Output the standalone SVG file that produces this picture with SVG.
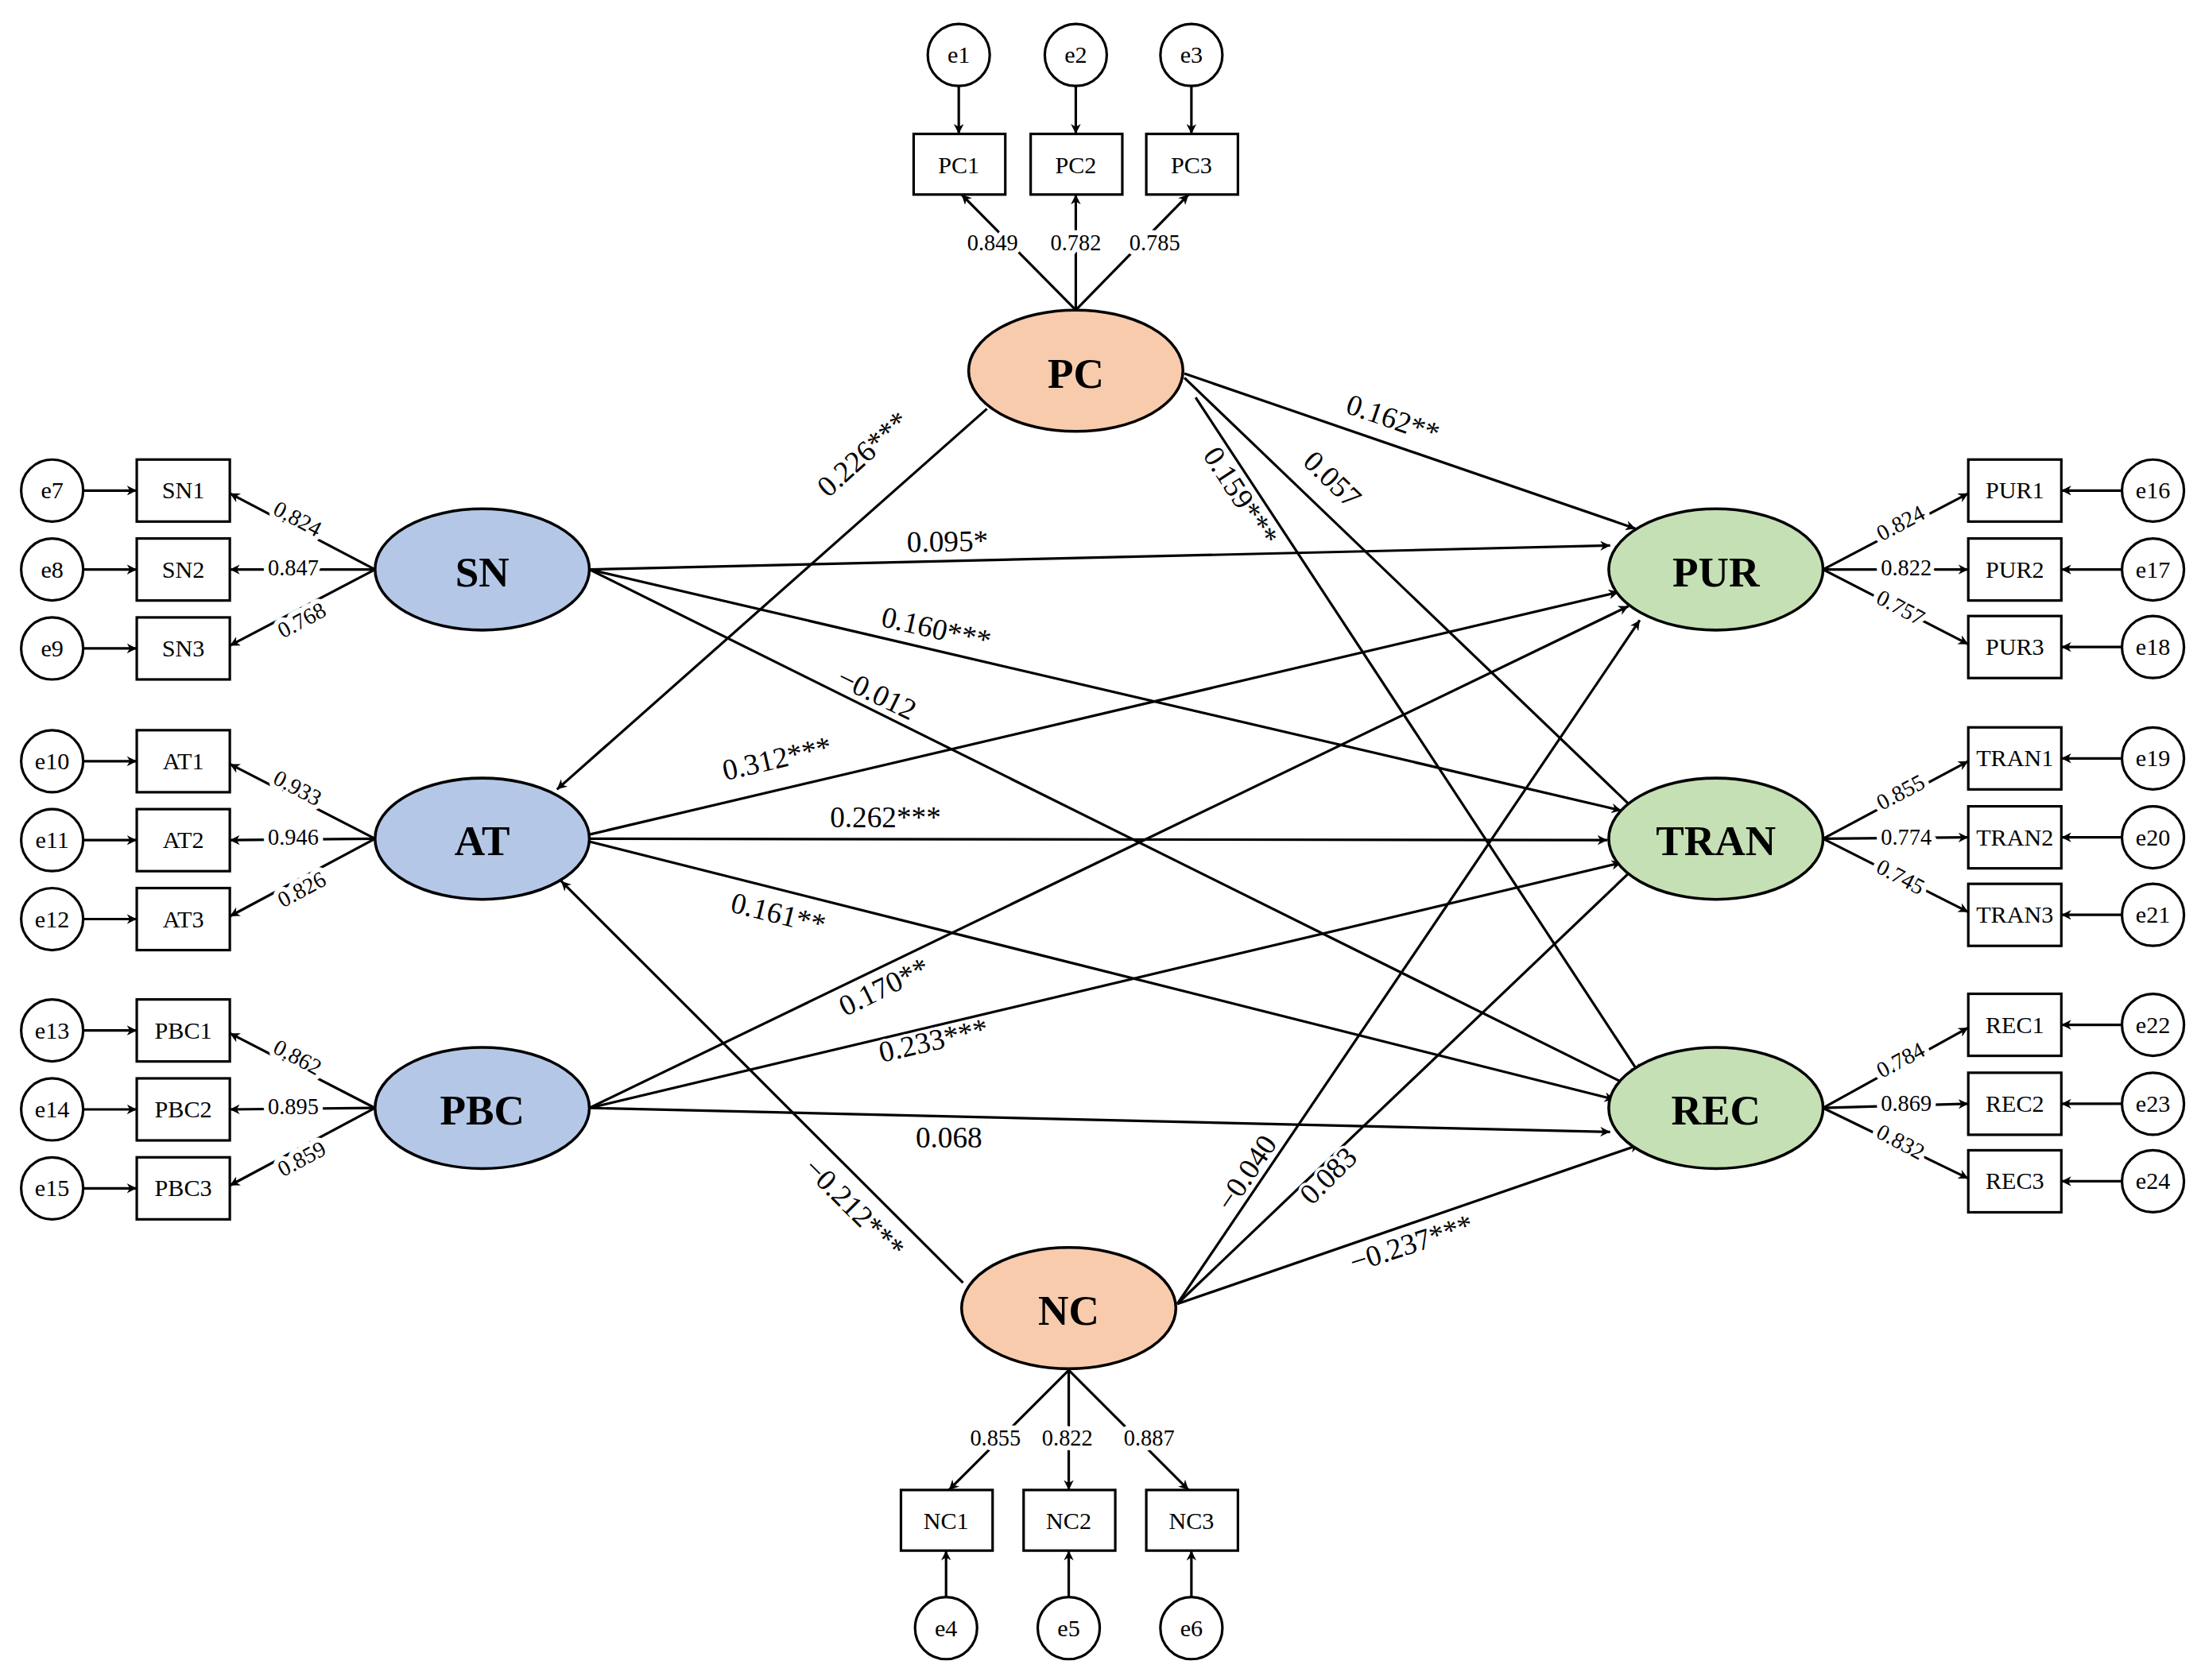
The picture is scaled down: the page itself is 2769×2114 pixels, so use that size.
<svg xmlns="http://www.w3.org/2000/svg" width="2769" height="2114" viewBox="0 0 2769 2114">
<style>
.b{fill:#fff;stroke:#000;stroke-width:1.8}
.t{font-family:"Liberation Serif",serif;font-size:17px;text-anchor:middle;dominant-baseline:central}
.L{font-family:"Liberation Serif",serif;font-weight:bold;font-size:30px;text-anchor:middle;dominant-baseline:central}
.p{font-family:"Liberation Serif",serif;font-size:21px;text-anchor:middle;dominant-baseline:central;paint-order:stroke;stroke:#fff;stroke-width:4px}
.l{font-family:"Liberation Serif",serif;font-size:16px;text-anchor:middle;dominant-baseline:central;paint-order:stroke;stroke:#fff;stroke-width:7px;stroke-linejoin:round}
.c line{stroke:#000;stroke-width:1.8;marker-end:url(#a)}
.pc{fill:#f8cbad;stroke:#000;stroke-width:2}
.bl{fill:#b4c7e7;stroke:#000;stroke-width:2}
.gr{fill:#c5e0b4;stroke:#000;stroke-width:2}
</style>
<defs><marker id="a" viewBox="0 0 10 10" refX="10" refY="5" markerWidth="7" markerHeight="7" orient="auto" markerUnits="userSpaceOnUse"><path d="M0,0L10,5L0,10L3,5z" fill="#000"/></marker></defs>
<rect width="2769" height="2114" fill="#fff"/>
<g transform="scale(1.7738)">
<g class="c" id="connectors">
<line x1="680" y1="61" x2="680" y2="95"/><line x1="763" y1="61" x2="763" y2="95"/><line x1="845" y1="61" x2="845" y2="95"/>
<line x1="671" y1="1133" x2="671" y2="1100"/><line x1="758" y1="1133" x2="758" y2="1100"/><line x1="845" y1="1133" x2="845" y2="1100"/>
<line x1="59" y1="348" x2="97" y2="348"/><line x1="59" y1="404" x2="97" y2="404"/><line x1="59" y1="460" x2="97" y2="460"/>
<line x1="59" y1="540" x2="97" y2="540"/><line x1="59" y1="596" x2="97" y2="596"/><line x1="59" y1="652" x2="97" y2="652"/>
<line x1="59" y1="731" x2="97" y2="731"/><line x1="59" y1="787" x2="97" y2="787"/><line x1="59" y1="843" x2="97" y2="843"/>
<line x1="1505" y1="348" x2="1462" y2="348"/><line x1="1505" y1="404" x2="1462" y2="404"/><line x1="1505" y1="459" x2="1462" y2="459"/>
<line x1="1505" y1="538" x2="1462" y2="538"/><line x1="1505" y1="594" x2="1462" y2="594"/><line x1="1505" y1="649" x2="1462" y2="649"/>
<line x1="1505" y1="727" x2="1462" y2="727"/><line x1="1505" y1="783" x2="1462" y2="783"/><line x1="1505" y1="838" x2="1462" y2="838"/>
<line x1="763" y1="220" x2="682" y2="138"/><line x1="763" y1="220" x2="763" y2="138"/><line x1="763" y1="220" x2="843" y2="138"/>
<line x1="758" y1="972" x2="673" y2="1057"/><line x1="758" y1="972" x2="758" y2="1057"/><line x1="758" y1="972" x2="843" y2="1057"/>
<line x1="266" y1="404" x2="163" y2="350"/><line x1="266" y1="404" x2="163" y2="404"/><line x1="266" y1="404" x2="163" y2="458"/>
<line x1="266" y1="595" x2="163" y2="542"/><line x1="266" y1="595" x2="163" y2="596"/><line x1="266" y1="595" x2="163" y2="650"/>
<line x1="266" y1="786" x2="163" y2="733"/><line x1="266" y1="786" x2="163" y2="787"/><line x1="266" y1="786" x2="163" y2="841"/>
<line x1="1293" y1="404" x2="1396" y2="350"/><line x1="1293" y1="404" x2="1396" y2="404"/><line x1="1293" y1="404" x2="1396" y2="457"/>
<line x1="1293" y1="595" x2="1396" y2="540"/><line x1="1293" y1="595" x2="1396" y2="594"/><line x1="1293" y1="595" x2="1396" y2="647"/>
<line x1="1293" y1="786" x2="1396" y2="729"/><line x1="1293" y1="786" x2="1396" y2="783"/><line x1="1293" y1="786" x2="1396" y2="836"/>
<line x1="700" y1="290" x2="395" y2="560"/>
<line x1="840" y1="265" x2="1160" y2="375"/>
<line x1="840" y1="268" x2="1160" y2="575"/>
<line x1="848" y1="282" x2="1163" y2="762"/>
<line x1="418" y1="404" x2="1142" y2="387"/>
<line x1="418" y1="404" x2="1150" y2="575"/>
<line x1="418" y1="404" x2="1155" y2="770"/>
<line x1="418" y1="592" x2="1148" y2="420"/>
<line x1="418" y1="595" x2="1140" y2="596"/>
<line x1="418" y1="597" x2="1145" y2="780"/>
<line x1="418" y1="786" x2="1155" y2="430"/>
<line x1="418" y1="786" x2="1150" y2="612"/>
<line x1="418" y1="786" x2="1142" y2="803"/>
<line x1="683" y1="910" x2="398" y2="625"/>
<line x1="835" y1="925" x2="1163" y2="440"/>
<line x1="835" y1="925" x2="1163" y2="612"/>
<line x1="835" y1="925" x2="1163" y2="812"/>
</g>
<g id="pathlabels">
<text class="p" transform="translate(612,322) rotate(-42)">0.226***</text>
<text class="p" transform="translate(988,297) rotate(19)">0.162**</text>
<text class="p" transform="translate(945,340) rotate(44)">0.057</text>
<text class="p" transform="translate(880,352) rotate(57)">0.159***</text>
<text class="p" transform="translate(672,384) rotate(-1)">0.095*</text>
<text class="p" transform="translate(664,446) rotate(13)">0.160***</text>
<text class="p" transform="translate(622,492) rotate(26)">−0.012</text>
<text class="p" transform="translate(551,538) rotate(-13)">0.312***</text>
<text class="p" transform="translate(628,580)">0.262***</text>
<text class="p" transform="translate(552,648) rotate(14)">0.161**</text>
<text class="p" transform="translate(627,700) rotate(-26)">0.170**</text>
<text class="p" transform="translate(662,738) rotate(-13)">0.233***</text>
<text class="p" transform="translate(673,807)">0.068</text>
<text class="p" transform="translate(606,857) rotate(45)">−0.212***</text>
<text class="p" transform="translate(884,832) rotate(-56)">−0.040</text>
<text class="p" transform="translate(942,834) rotate(-45)">0.083</text>
<text class="p" transform="translate(1001,882) rotate(-18)">−0.237***</text>
<text class="l" x="704" y="172">0.849</text><text class="l" x="763" y="172">0.782</text><text class="l" x="819" y="172">0.785</text>
<text class="l" x="706" y="1020">0.855</text><text class="l" x="757" y="1020">0.822</text><text class="l" x="815" y="1020">0.887</text>
<text class="l" transform="translate(211,368) rotate(28)">0.824</text><text class="l" x="208" y="403">0.847</text><text class="l" transform="translate(214,440) rotate(-28)">0.768</text>
<text class="l" transform="translate(211,559) rotate(28)">0.933</text><text class="l" x="208" y="594">0.946</text><text class="l" transform="translate(214,631) rotate(-28)">0.826</text>
<text class="l" transform="translate(211,750) rotate(28)">0.862</text><text class="l" x="208" y="785">0.895</text><text class="l" transform="translate(214,822) rotate(-28)">0.859</text>
<text class="l" transform="translate(1348,371) rotate(-28)">0.824</text><text class="l" x="1352" y="403">0.822</text><text class="l" transform="translate(1348,431) rotate(28)">0.757</text>
<text class="l" transform="translate(1348,562) rotate(-28)">0.855</text><text class="l" x="1352" y="594">0.774</text><text class="l" transform="translate(1348,622) rotate(28)">0.745</text>
<text class="l" transform="translate(1348,752) rotate(-28)">0.784</text><text class="l" x="1352" y="783">0.869</text><text class="l" transform="translate(1348,810) rotate(28)">0.832</text>
</g>
<g id="PC"><ellipse class="pc" cx="763" cy="263" rx="76" ry="43"/><text class="L" x="763" y="265">PC</text></g>
<g id="NC"><ellipse class="pc" cx="758" cy="928" rx="76" ry="43"/><text class="L" x="758" y="930">NC</text></g>
<g id="SN"><ellipse class="bl" cx="342" cy="404" rx="76" ry="43"/><text class="L" x="342" y="406">SN</text></g>
<g id="AT"><ellipse class="bl" cx="342" cy="595" rx="76" ry="43"/><text class="L" x="342" y="597">AT</text></g>
<g id="PBC"><ellipse class="bl" cx="342" cy="786" rx="76" ry="43"/><text class="L" x="342" y="788">PBC</text></g>
<g id="PUR"><ellipse class="gr" cx="1217" cy="404" rx="76" ry="43"/><text class="L" x="1217" y="406">PUR</text></g>
<g id="TRAN"><ellipse class="gr" cx="1217" cy="595" rx="76" ry="43"/><text class="L" x="1217" y="597">TRAN</text></g>
<g id="REC"><ellipse class="gr" cx="1217" cy="786" rx="76" ry="43"/><text class="L" x="1217" y="788">REC</text></g>
<g id="PC1"><rect class="b" x="648" y="95" width="65" height="43"/><text class="t" x="680" y="117">PC1</text></g>
<g id="PC2"><rect class="b" x="731" y="95" width="65" height="43"/><text class="t" x="763" y="117">PC2</text></g>
<g id="PC3"><rect class="b" x="813" y="95" width="65" height="43"/><text class="t" x="845" y="117">PC3</text></g>
<g id="NC1"><rect class="b" x="639" y="1057" width="65" height="43"/><text class="t" x="671" y="1079">NC1</text></g>
<g id="NC2"><rect class="b" x="726" y="1057" width="65" height="43"/><text class="t" x="758" y="1079">NC2</text></g>
<g id="NC3"><rect class="b" x="813" y="1057" width="65" height="43"/><text class="t" x="845" y="1079">NC3</text></g>
<g id="SN1"><rect class="b" x="97" y="326" width="66" height="44"/><text class="t" x="130" y="348">SN1</text></g>
<g id="SN2"><rect class="b" x="97" y="382" width="66" height="44"/><text class="t" x="130" y="404">SN2</text></g>
<g id="SN3"><rect class="b" x="97" y="438" width="66" height="44"/><text class="t" x="130" y="460">SN3</text></g>
<g id="AT1"><rect class="b" x="97" y="518" width="66" height="44"/><text class="t" x="130" y="540">AT1</text></g>
<g id="AT2"><rect class="b" x="97" y="574" width="66" height="44"/><text class="t" x="130" y="596">AT2</text></g>
<g id="AT3"><rect class="b" x="97" y="630" width="66" height="44"/><text class="t" x="130" y="652">AT3</text></g>
<g id="PBC1"><rect class="b" x="97" y="709" width="66" height="44"/><text class="t" x="130" y="731">PBC1</text></g>
<g id="PBC2"><rect class="b" x="97" y="765" width="66" height="44"/><text class="t" x="130" y="787">PBC2</text></g>
<g id="PBC3"><rect class="b" x="97" y="821" width="66" height="44"/><text class="t" x="130" y="843">PBC3</text></g>
<g id="PUR1"><rect class="b" x="1396" y="326" width="66" height="44"/><text class="t" x="1429" y="348">PUR1</text></g>
<g id="PUR2"><rect class="b" x="1396" y="382" width="66" height="44"/><text class="t" x="1429" y="404">PUR2</text></g>
<g id="PUR3"><rect class="b" x="1396" y="437" width="66" height="44"/><text class="t" x="1429" y="459">PUR3</text></g>
<g id="TRAN1"><rect class="b" x="1396" y="516" width="66" height="44"/><text class="t" x="1429" y="538">TRAN1</text></g>
<g id="TRAN2"><rect class="b" x="1396" y="572" width="66" height="44"/><text class="t" x="1429" y="594">TRAN2</text></g>
<g id="TRAN3"><rect class="b" x="1396" y="627" width="66" height="44"/><text class="t" x="1429" y="649">TRAN3</text></g>
<g id="REC1"><rect class="b" x="1396" y="705" width="66" height="44"/><text class="t" x="1429" y="727">REC1</text></g>
<g id="REC2"><rect class="b" x="1396" y="761" width="66" height="44"/><text class="t" x="1429" y="783">REC2</text></g>
<g id="REC3"><rect class="b" x="1396" y="816" width="66" height="44"/><text class="t" x="1429" y="838">REC3</text></g>
<g id="e1"><circle class="b" cx="680" cy="39" r="22"/><text class="t" x="680" y="39">e1</text></g>
<g id="e2"><circle class="b" cx="763" cy="39" r="22"/><text class="t" x="763" y="39">e2</text></g>
<g id="e3"><circle class="b" cx="845" cy="39" r="22"/><text class="t" x="845" y="39">e3</text></g>
<g id="e4"><circle class="b" cx="671" cy="1155" r="22"/><text class="t" x="671" y="1155">e4</text></g>
<g id="e5"><circle class="b" cx="758" cy="1155" r="22"/><text class="t" x="758" y="1155">e5</text></g>
<g id="e6"><circle class="b" cx="845" cy="1155" r="22"/><text class="t" x="845" y="1155">e6</text></g>
<g id="e7"><circle class="b" cx="37" cy="348" r="22"/><text class="t" x="37" y="348">e7</text></g>
<g id="e8"><circle class="b" cx="37" cy="404" r="22"/><text class="t" x="37" y="404">e8</text></g>
<g id="e9"><circle class="b" cx="37" cy="460" r="22"/><text class="t" x="37" y="460">e9</text></g>
<g id="e10"><circle class="b" cx="37" cy="540" r="22"/><text class="t" x="37" y="540">e10</text></g>
<g id="e11"><circle class="b" cx="37" cy="596" r="22"/><text class="t" x="37" y="596">e11</text></g>
<g id="e12"><circle class="b" cx="37" cy="652" r="22"/><text class="t" x="37" y="652">e12</text></g>
<g id="e13"><circle class="b" cx="37" cy="731" r="22"/><text class="t" x="37" y="731">e13</text></g>
<g id="e14"><circle class="b" cx="37" cy="787" r="22"/><text class="t" x="37" y="787">e14</text></g>
<g id="e15"><circle class="b" cx="37" cy="843" r="22"/><text class="t" x="37" y="843">e15</text></g>
<g id="e16"><circle class="b" cx="1527" cy="348" r="22"/><text class="t" x="1527" y="348">e16</text></g>
<g id="e17"><circle class="b" cx="1527" cy="404" r="22"/><text class="t" x="1527" y="404">e17</text></g>
<g id="e18"><circle class="b" cx="1527" cy="459" r="22"/><text class="t" x="1527" y="459">e18</text></g>
<g id="e19"><circle class="b" cx="1527" cy="538" r="22"/><text class="t" x="1527" y="538">e19</text></g>
<g id="e20"><circle class="b" cx="1527" cy="594" r="22"/><text class="t" x="1527" y="594">e20</text></g>
<g id="e21"><circle class="b" cx="1527" cy="649" r="22"/><text class="t" x="1527" y="649">e21</text></g>
<g id="e22"><circle class="b" cx="1527" cy="727" r="22"/><text class="t" x="1527" y="727">e22</text></g>
<g id="e23"><circle class="b" cx="1527" cy="783" r="22"/><text class="t" x="1527" y="783">e23</text></g>
<g id="e24"><circle class="b" cx="1527" cy="838" r="22"/><text class="t" x="1527" y="838">e24</text></g>
</g>
</svg>
